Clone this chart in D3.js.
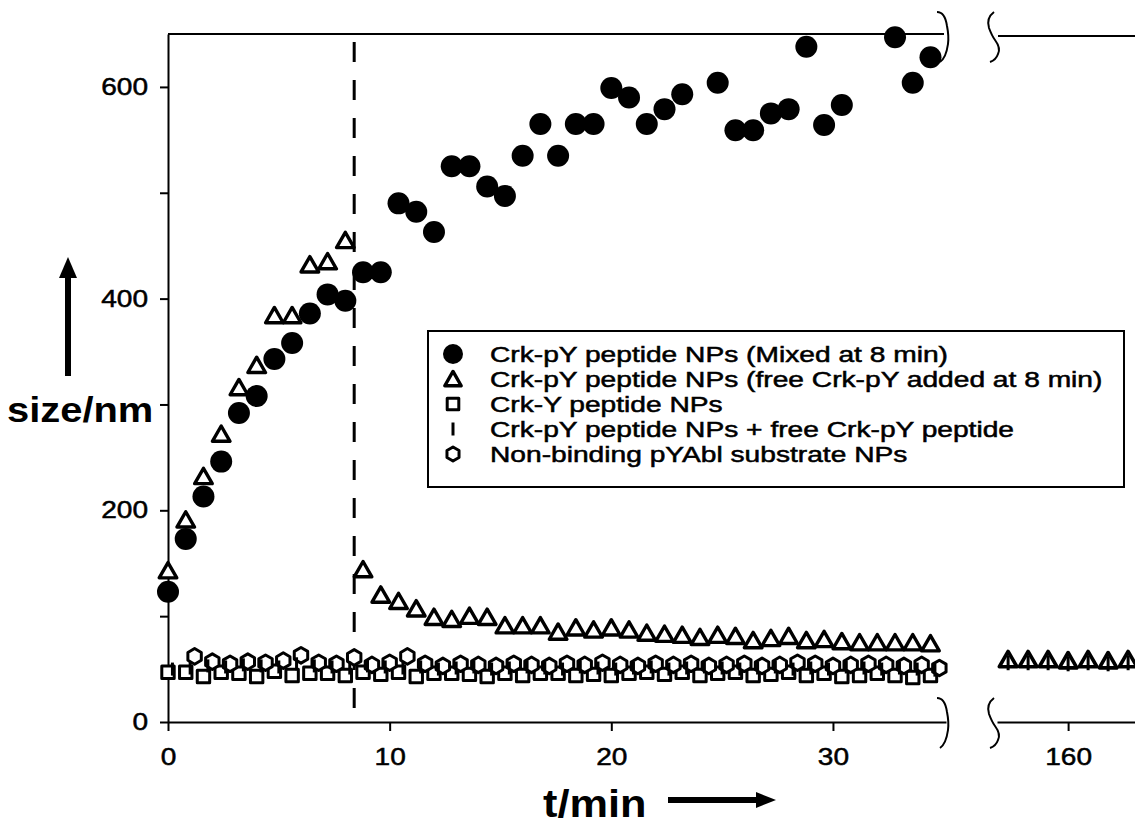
<!DOCTYPE html>
<html>
<head>
<meta charset="utf-8">
<script src="https://cdn.jsdelivr.net/npm/d3@7"></script>
<style>
  html, body { margin: 0; padding: 0; background: #fff; }
  svg { display: block; font-family: "Liberation Sans", Arial, Helvetica, sans-serif; }
  /* the figure's lettering is set a little wide */
  .wide-mid   { transform-box: fill-box; transform-origin: 50% 50%;  transform: scaleX(1.17); }
  .wide-end   { transform-box: fill-box; transform-origin: 100% 50%; transform: scaleX(1.17); }
  .wide-start { transform-box: fill-box; transform-origin: 0% 50%;   transform: scaleX(1.14); }
  .legend-text { transform-box: fill-box; transform-origin: 0% 50%;  transform: scaleX(1.31); }
  .inked { stroke: #000; stroke-width: 0.5px; }
</style>
</head>
<body>
<svg id="chart" width="1135" height="824"></svg>
<script>
// ---- data -------------------------------------------------------------
// readings were taken every 0.8 min during the first 35 min
const stepMin = 0.8;
const addedAt = 8.4;            // time of mixing / free peptide addition (min)

// Crk-pY peptide NPs (Mixed at 8 min) — null = no reading
const mixedSize = [123,173,213,246,292,308,343,358,386,404,398,425,425,490,482,463,
  525,525,506,497,535,565,535,565,565,599,590,565,579,593,null,604,559,559,575,579,
  638,564,583,null,null,647,604,628];

// Crk-pY peptide NPs (free Crk-pY added at 8 min)
const freeAddedSize = [143,191,232,272,316,337,384,384,432,435,455,
  144,120,114,107,99,97,100,99,91,91,91,85,89,87,89,87,84,83,82,80,82,
  81,77,79,81,77,78,76,75,75,75,75,74];

// Crk-Y peptide NPs
const crkYSize = [47,47,43,47,46,43,48,44,46,46,44,47,45,47,43,46,46,45,43,46,
  44,46,46,44,45,44,46,47,45,47,44,46,47,44,45,47,44,46,43,44,46,44,42,44];

// Crk-pY peptide NPs + free Crk-pY peptide (offset 0.2 min)
const withFreeSize = [50,51,53,52,54,53,52,55,53,52,51,53,52,51,52,50,51,52,50,51,
  52,51,50,52,51,50,51,52,50,51,52,51,50,51,52,50,51,50,52,51,50,51,50,49];

// Non-binding pYAbl substrate NPs (start at 1.2 min)
const nonBindingSize = [62,57,55,57,56,58,63,56,55,61,54,56,62,55,53,55,54,53,55,54,
  53,55,54,56,54,53,55,54,55,53,54,55,53,54,56,55,53,54,55,54,53,54,51];

// late readings around 160 min
const lateTimes = [157.3,158.2,159.1,160.0,160.9,161.8,162.7];
const lateFreeAdded = [59,59,59,58,59,58,59];
const lateWithFree = [56,56,56,55,56,55,56];

const yTicks = [0,100,200,300,400,500,600];
const xTicksEarly = [0,10,20,30];
const xTicksLate = [160];

const legendLabels = [
  "Crk-pY peptide NPs (Mixed at 8 min)",
  "Crk-pY peptide NPs (free Crk-pY added at 8 min)",
  "Crk-Y peptide NPs",
  "Crk-pY peptide NPs + free Crk-pY peptide",
  "Non-binding pYAbl substrate NPs"
];

// ---- series tables ----------------------------------------------------
const pts = (vals, t0) => vals.map((v, i) => ({t: t0 + i * stepMin, v})).filter(d => d.v != null);
const circles   = pts(mixedSize, 0);
const triangles = pts(freeAddedSize, 0);
const squares   = pts(crkYSize, 0);
const bars      = pts(withFreeSize, 0.2);
const hexagons  = pts(nonBindingSize, 1.2);
const lateTri   = lateTimes.map((t, i) => ({t, v: lateFreeAdded[i]}));
const lateBar   = lateTimes.map((t, i) => ({t, v: lateWithFree[i]}));

// ---- scales -----------------------------------------------------------
const svg = d3.select("#chart");
const x1 = d3.scaleLinear().domain([0, 35.1]).range([168, 946]);
const x2 = d3.scaleLinear().domain([156.8, 163.1]).range([997, 1137]);
const y  = d3.scaleLinear().domain([0, 650]).range([722, 34]);

// ---- marker shapes ----------------------------------------------------
const shape = {
  circle: r => `M${-r},0A${r},${r} 0 1,0 ${r},0A${r},${r} 0 1,0 ${-r},0Z`,
  triangle: s => `M0,${-s*0.92}L${s},${s*0.82}L${-s},${s*0.82}Z`,
  square: s => `M${-s},${-s}H${s}V${s}H${-s}Z`,
  hexagon: s => {
    const w = s * 0.86, h = s;
    return `M0,${-h}L${w},${-h/2}L${w},${h/2}L0,${h}L${-w},${h/2}L${-w},${-h/2}Z`;
  },
  bar: s => `M0,${-s}V${s}`
};

function drawMarks(data, xs, kind, size, style) {
  svg.append("g").selectAll("path").data(data).join("path")
    .attr("transform", d => `translate(${xs(d.t)},${y(d.v)})`)
    .attr("d", shape[kind](size))
    .attr("fill", style.fill)
    .attr("stroke", style.stroke)
    .attr("stroke-width", style.sw)
    .attr("stroke-linejoin", "round");
}

const openStyle = sw => ({fill: "#fff", stroke: "#000", sw});
const barStyle = {fill: "none", stroke: "#000", sw: 3};

// ---- axes -------------------------------------------------------------
const axisStyle = cls => g => {
  g.selectAll("path.domain").attr("stroke", "#000").attr("stroke-width", 2);
  g.selectAll(".tick line").attr("stroke", "#000").attr("stroke-width", 2);
  g.selectAll(".tick text").attr("fill", "#000").attr("font-size", 24)
    .attr("font-family", "'Liberation Sans', Arial, sans-serif")
    .attr("class", cls + " inked");
};

svg.append("g").attr("transform", "translate(168,0)")
  .call(d3.axisLeft(y).tickValues(yTicks).tickSize(8).tickSizeOuter(0).tickPadding(12)
    .tickFormat(d => d % 200 === 0 ? d : ""))
  .call(axisStyle("wide-end"));

svg.append("g").attr("transform", "translate(0,722)")
  .call(d3.axisBottom(x1).tickValues(xTicksEarly).tickSize(9).tickSizeOuter(0).tickPadding(17)
    .tickFormat(d3.format("d")))
  .call(axisStyle("wide-mid"));

svg.append("g").attr("transform", "translate(0,722)")
  .call(d3.axisBottom(x2).tickValues(xTicksLate).tickSize(9).tickSizeOuter(0).tickPadding(17)
    .tickFormat(d3.format("d")))
  .call(axisStyle("wide-mid"));

// top frame, broken like the time axis
svg.append("line").attr("x1", 168).attr("x2", 944).attr("y1", y(650)).attr("y2", y(650))
  .attr("stroke", "#000").attr("stroke-width", 2);
svg.append("line").attr("x1", 998).attr("x2", 1135).attr("y1", y(650) + 2).attr("y2", y(650) + 2)
  .attr("stroke", "#000").attr("stroke-width", 2);

// break marks on the time axis (bottom and top)
function breakMarks(cy) {
  const g = svg.append("g").attr("fill", "none").attr("stroke", "#000").attr("stroke-width", 2);
  g.append("path").attr("d",
    `M937,${cy-24} Q945,${cy-24} 947,${cy-10} Q949,${cy} 948,${cy+8} Q946,${cy+22} 940,${cy+26}`);
  g.append("path").attr("d",
    `M994,${cy-24} Q986,${cy-18} 989,${cy-8} Q992,${cy} 995,${cy+4} Q1001,${cy+12} 998,${cy+18} Q996,${cy+24} 990,${cy+26}`);
}
breakMarks(722);
breakMarks(y(650) + 2);

// ---- dashed marker of the addition time --------------------------------
svg.append("line")
  .attr("x1", x1(addedAt)).attr("x2", x1(addedAt))
  .attr("y1", 42).attr("y2", 716)
  .attr("stroke", "#000").attr("stroke-width", 3).attr("stroke-dasharray", "20,18");

// ---- data marks -------------------------------------------------------
drawMarks(squares, x1, "square", 6.2, openStyle(3));
drawMarks(hexagons, x1, "hexagon", 7.8, openStyle(3));
drawMarks(bars, x1, "bar", 6.5, barStyle);
drawMarks(triangles, x1, "triangle", 8.8, openStyle(3.4));
drawMarks(lateTri, x2, "triangle", 8.8, openStyle(3.6));
drawMarks(lateBar, x2, "bar", 7.5, barStyle);
drawMarks(circles, x1, "circle", 11, {fill: "#000", stroke: "#000", sw: 0});

// ---- axis titles with arrows ------------------------------------------
svg.append("text").attr("x", 7).attr("y", 422).attr("class", "wide-start")
  .attr("font-size", 35).attr("font-weight", "bold").attr("fill", "#000")
  .text("size/nm");
svg.append("path").attr("d", "M68,376V272").attr("stroke", "#000").attr("stroke-width", 6);
svg.append("path").attr("d", "M68,257L77,278L59,278Z").attr("fill", "#000");

svg.append("text").attr("x", 543).attr("y", 817).attr("class", "wide-start")
  .attr("font-size", 38).attr("font-weight", "bold").attr("fill", "#000")
  .text("t/min");
svg.append("path").attr("d", "M668,800H760").attr("stroke", "#000").attr("stroke-width", 6);
svg.append("path").attr("d", "M776,800L756,792L756,808Z").attr("fill", "#000");

// ---- legend -----------------------------------------------------------
const lg = svg.append("g");
lg.append("rect").attr("x", 428).attr("y", 331).attr("width", 696).attr("height", 156)
  .attr("fill", "#fff").attr("stroke", "#000").attr("stroke-width", 2);
const legendKinds = [
  {kind: "circle", size: 10, style: {fill: "#000", stroke: "#000", sw: 0}},
  {kind: "triangle", size: 8.2, style: openStyle(3.4)},
  {kind: "square", size: 5.8, style: openStyle(3)},
  {kind: "bar", size: 6.5, style: barStyle},
  {kind: "hexagon", size: 7, style: openStyle(3)}
];
const rowY = d3.scalePoint().domain(d3.range(legendLabels.length)).range([354, 454]);
legendLabels.forEach((label, i) => {
  const k = legendKinds[i];
  lg.append("path").attr("transform", `translate(453,${rowY(i)})`)
    .attr("d", shape[k.kind](k.size))
    .attr("fill", k.style.fill).attr("stroke", k.style.stroke)
    .attr("stroke-width", k.style.sw).attr("stroke-linejoin", "round");
  lg.append("text").attr("x", 490).attr("y", rowY(i)).attr("dy", "0.36em")
    .attr("class", "legend-text inked")
    .attr("font-size", 21.5).attr("fill", "#000").text(label);
});
</script>
</body>
</html>
